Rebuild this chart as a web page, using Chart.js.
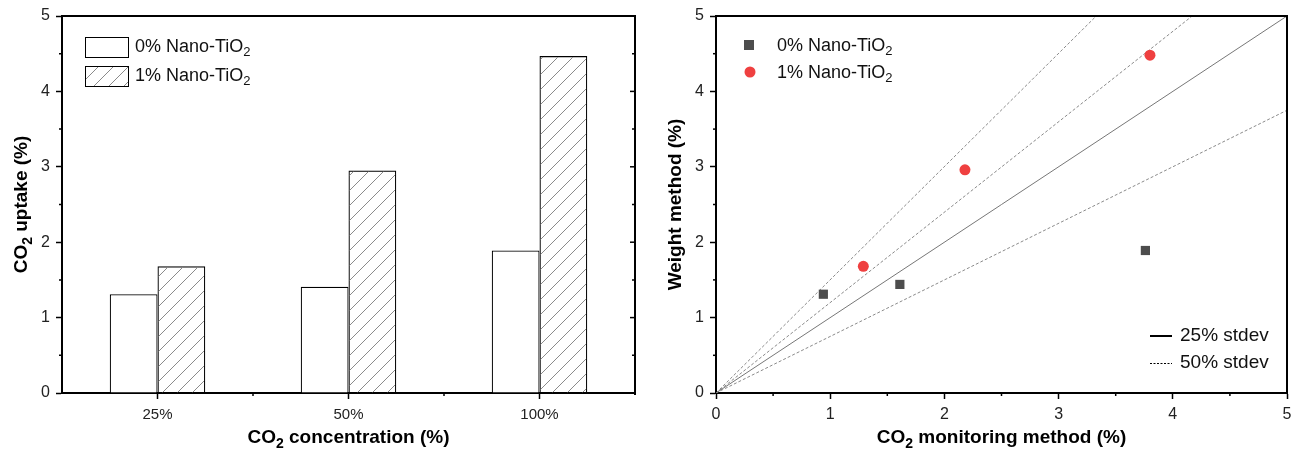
<!DOCTYPE html>
<html>
<head>
<meta charset="utf-8">
<script src="https://cdn.jsdelivr.net/npm/chart.js@4/dist/chart.umd.min.js"></script>
<style>
  html, body { margin: 0; padding: 0; background: #fff; }
  #wrap { width: 1304px; height: 459px; display: flex; }
  .cell { position: relative; width: 652px; height: 459px; }
</style>
</head>
<body>
<div id="wrap">
  <div class="cell"><canvas id="barChart" width="652" height="459"></canvas></div>
  <div class="cell"><canvas id="scatterChart" width="652" height="459"></canvas></div>
</div>
<script>
// ---- data ----
const concentrations = ['25%', '50%', '100%'];
const uptake0 = [1.31, 1.41, 1.89];      // 0% Nano-TiO2, CO2 uptake (%)
const uptake1 = [1.68, 2.95, 4.47];      // 1% Nano-TiO2, CO2 uptake (%)

const monitor0 = [0.94, 1.61, 3.76];     // 0% Nano-TiO2, CO2 monitoring method (%)
const weight0  = [1.31, 1.44, 1.89];     // 0% Nano-TiO2, weight method (%)
const monitor1 = [1.29, 2.18, 3.80];     // 1% Nano-TiO2, CO2 monitoring method (%)
const weight1  = [1.68, 2.96, 4.48];     // 1% Nano-TiO2, weight method (%)

// reference lines: end points (x, y) starting from the origin
const line25X = [0, 5];     const line25Y = [0, 5];
const line50aX = [0, 3.33]; const line50aY = [0, 5];
const line50bX = [0, 4.17]; const line50bY = [0, 5];
const line50cX = [0, 5];    const line50cY = [0, 3.75];

const yTicks = [0, 1, 2, 3, 4, 5];
const xTicks = [0, 1, 2, 3, 4, 5];

const FONT = "'Liberation Sans', Arial, sans-serif";

// diagonal hatch fill
function makeHatch(ctx) {
  const s = 15;
  const c = document.createElement('canvas');
  c.width = s; c.height = s;
  const g = c.getContext('2d');
  g.strokeStyle = '#8a8a8a';
  g.lineWidth = 1;
  g.beginPath();
  g.moveTo(0, s); g.lineTo(s, 0);
  g.moveTo(-s / 2, s / 2); g.lineTo(s / 2, -s / 2);
  g.moveTo(s / 2, s * 1.5); g.lineTo(s * 1.5, s / 2);
  g.stroke();
  return ctx.createPattern(c, 'repeat');
}

// text with subscript pieces: parts = [[text, isSub], ...]
function richWidth(ctx, parts, size, bold) {
  let w = 0;
  for (const [t, sub] of parts) {
    ctx.font = (bold ? 'bold ' : '') + (sub ? Math.round(size * 0.72) : size) + 'px ' + FONT;
    w += ctx.measureText(t).width;
  }
  return w;
}
function drawRich(ctx, parts, x, y, size, bold, align) {
  const w = richWidth(ctx, parts, size, bold);
  let cx = align === 'center' ? x - w / 2 : x;
  ctx.textBaseline = 'middle';
  ctx.textAlign = 'left';
  for (const [t, sub] of parts) {
    ctx.font = (bold ? 'bold ' : '') + (sub ? Math.round(size * 0.72) : size) + 'px ' + FONT;
    ctx.fillText(t, cx, sub ? y + size * 0.32 : y);
    cx += ctx.measureText(t).width;
  }
}

function fixedAxes(yWidth, xHeight) {
  return {
    y: (axis) => { axis.width = yWidth; },
    x: (axis) => { axis.height = xHeight; }
  };
}

const TITLE_SIZE = 19;
const LEGEND_SIZE = 18;
const TICK_SIZE = 16;

// ---- left: bar chart ----
const barCtx = document.getElementById('barChart').getContext('2d');
const hatch = makeHatch(barCtx);

const barDecor = {
  id: 'barDecor',
  afterDraw(chart) {
    const ctx = chart.ctx;
    const a = chart.chartArea;
    const ys = chart.scales.y, xs = chart.scales.x;
    ctx.save();
    ctx.strokeStyle = '#000';
    ctx.lineWidth = 2;
    // frame top + right
    ctx.beginPath();
    ctx.moveTo(a.left, a.top); ctx.lineTo(a.right, a.top); ctx.lineTo(a.right, a.bottom + 2);
    ctx.stroke();
    ctx.lineWidth = 1.5;
    // minor ticks on left axis and mirrored ticks on right border
    for (let v = 0; v <= 5.001; v += 0.5) {
      const py = ys.getPixelForValue(v);
      const major = Math.abs(v - Math.round(v)) < 1e-6;
      ctx.beginPath();
      if (!major) { ctx.moveTo(a.left, py); ctx.lineTo(a.left - 3, py); }
      ctx.moveTo(a.right, py); ctx.lineTo(a.right - (major ? 5 : 3), py);
      ctx.stroke();
    }
    // minor ticks between categories
    for (let i = 0; i < concentrations.length - 1; i++) {
      const px = (xs.getPixelForValue(i) + xs.getPixelForValue(i + 1)) / 2;
      ctx.beginPath(); ctx.moveTo(px, a.bottom); ctx.lineTo(px, a.bottom + 3); ctx.stroke();
    }
    // axis titles
    ctx.fillStyle = '#000';
    drawRich(ctx, [['CO', false], ['2', true], [' concentration (%)', false]], (a.left + a.right) / 2, 438, TITLE_SIZE, true, 'center');
    ctx.save();
    ctx.translate(22, (a.top + a.bottom) / 2);
    ctx.rotate(-Math.PI / 2);
    drawRich(ctx, [['CO', false], ['2', true], [' uptake (%)', false]], 0, 0, TITLE_SIZE, true, 'center');
    ctx.restore();
    // legend
    ctx.lineWidth = 1;
    ctx.fillStyle = '#fff';
    ctx.fillRect(85.5, 37.5, 43, 20); ctx.strokeRect(85.5, 37.5, 43, 20);
    ctx.fillStyle = hatch;
    ctx.fillRect(85.5, 66.5, 43, 20); ctx.strokeRect(85.5, 66.5, 43, 20);
    ctx.fillStyle = '#111';
    drawRich(ctx, [['0% Nano-TiO', false], ['2', true]], 135, 47, LEGEND_SIZE, false, 'left');
    drawRich(ctx, [['1% Nano-TiO', false], ['2', true]], 135, 76, LEGEND_SIZE, false, 'left');
    ctx.restore();
  }
};

const barFit = fixedAxes(62, 66);
new Chart(barCtx, {
  type: 'bar',
  data: {
    labels: concentrations,
    datasets: [
      { label: '0% Nano-TiO2', data: uptake0, backgroundColor: '#fff', borderColor: '#000', borderWidth: 1.2,
        barPercentage: 1, categoryPercentage: 0.5 },
      { label: '1% Nano-TiO2', data: uptake1, backgroundColor: hatch, borderColor: '#000', borderWidth: 1.2,
        barPercentage: 1, categoryPercentage: 0.5 }
    ]
  },
  options: {
    responsive: false,
    animation: false,
    layout: { padding: { top: 16, right: 17, left: 0, bottom: 0 } },
    plugins: { legend: { display: false }, tooltip: { enabled: false } },
    scales: {
      x: {
        afterFit: barFit.x,
        grid: { display: true, drawOnChartArea: false, offset: false, tickLength: 6, tickColor: '#000', tickWidth: 1.5 },
        border: { color: '#000', width: 2 },
        ticks: { color: '#222', font: { family: FONT, size: 15 }, padding: 7 }
      },
      y: {
        min: 0, max: 5,
        afterFit: barFit.y,
        afterBuildTicks: (axis) => { axis.ticks = yTicks.map(v => ({ value: v })); },
        grid: { display: true, drawOnChartArea: false, tickLength: 6, tickColor: '#000', tickWidth: 1.5 },
        border: { color: '#000', width: 2 },
        ticks: { color: '#222', font: { family: FONT, size: TICK_SIZE }, padding: 6 }
      }
    }
  },
  plugins: [barDecor]
});

// ---- right: scatter chart ----
const scCtx = document.getElementById('scatterChart').getContext('2d');

function pts(xs, ys) { return xs.map((x, i) => ({ x: x, y: ys[i] })); }

const scatterDecor = {
  id: 'scatterDecor',
  afterDraw(chart) {
    const ctx = chart.ctx;
    const a = chart.chartArea;
    const ys = chart.scales.y, xs = chart.scales.x;
    ctx.save();
    ctx.strokeStyle = '#000';
    ctx.lineWidth = 2;
    ctx.beginPath();
    ctx.moveTo(a.left, a.top); ctx.lineTo(a.right, a.top); ctx.lineTo(a.right, a.bottom);
    ctx.stroke();
    ctx.lineWidth = 1.5;
    for (let v = 0.5; v < 5; v += 1) {
      const py = ys.getPixelForValue(v);
      ctx.beginPath(); ctx.moveTo(a.left, py); ctx.lineTo(a.left - 3, py); ctx.stroke();
      const px = xs.getPixelForValue(v);
      ctx.beginPath(); ctx.moveTo(px, a.bottom); ctx.lineTo(px, a.bottom + 3); ctx.stroke();
    }
    // axis titles
    ctx.fillStyle = '#000';
    drawRich(ctx, [['CO', false], ['2', true], [' monitoring method (%)', false]], (a.left + a.right) / 2, 438, TITLE_SIZE, true, 'center');
    ctx.save();
    ctx.translate(24, (a.top + a.bottom) / 2);
    ctx.rotate(-Math.PI / 2);
    drawRich(ctx, [['Weight method (%)', false]], 0, 0, TITLE_SIZE, true, 'center');
    ctx.restore();
    // marker legend
    ctx.fillStyle = '#4d4d4d';
    ctx.fillRect(97 - 5, 45 - 5, 10, 10);
    ctx.fillStyle = '#ef4040';
    ctx.beginPath(); ctx.arc(98, 72, 5.5, 0, Math.PI * 2); ctx.fill();
    ctx.fillStyle = '#111';
    drawRich(ctx, [['0% Nano-TiO', false], ['2', true]], 125, 46, LEGEND_SIZE, false, 'left');
    drawRich(ctx, [['1% Nano-TiO', false], ['2', true]], 125, 73, LEGEND_SIZE, false, 'left');
    // line legend
    ctx.strokeStyle = '#000';
    ctx.lineWidth = 2;
    ctx.beginPath(); ctx.moveTo(498, 336); ctx.lineTo(520, 336); ctx.stroke();
    ctx.lineWidth = 1;
    ctx.setLineDash([2, 1.5]);
    ctx.beginPath(); ctx.moveTo(498, 363.5); ctx.lineTo(520, 363.5); ctx.stroke();
    ctx.setLineDash([]);
    drawRich(ctx, [['25% stdev', false]], 528, 336, 19, false, 'left');
    drawRich(ctx, [['50% stdev', false]], 528, 363, 19, false, 'left');
    ctx.restore();
  }
};

const scFit = fixedAxes(64, 66);
const dashedLine = (xs, ys) => ({
  type: 'line', data: pts(xs, ys), borderColor: '#8a8a8a', borderWidth: 1, borderDash: [3, 2],
  pointRadius: 0, fill: false, order: 2
});

new Chart(scCtx, {
  type: 'scatter',
  data: {
    datasets: [
      { type: 'line', data: pts(line25X, line25Y), borderColor: '#777', borderWidth: 1, pointRadius: 0, fill: false, order: 2 },
      dashedLine(line50aX, line50aY),
      dashedLine(line50bX, line50bY),
      dashedLine(line50cX, line50cY),
      { label: '0% Nano-TiO2', data: pts(monitor0, weight0), pointStyle: 'rect', pointRadius: 6.5,
        backgroundColor: '#4d4d4d', borderColor: '#4d4d4d', borderWidth: 0, order: 1 },
      { label: '1% Nano-TiO2', data: pts(monitor1, weight1), pointStyle: 'circle', pointRadius: 5.5,
        backgroundColor: '#ef4040', borderColor: '#ef4040', borderWidth: 0, order: 1 }
    ]
  },
  options: {
    responsive: false,
    animation: false,
    layout: { padding: { top: 16, right: 17, left: 0, bottom: 0 } },
    plugins: { legend: { display: false }, tooltip: { enabled: false } },
    scales: {
      x: {
        type: 'linear', min: 0, max: 5,
        afterFit: scFit.x,
        afterBuildTicks: (axis) => { axis.ticks = xTicks.map(v => ({ value: v })); },
        grid: { display: true, drawOnChartArea: false, tickLength: 6, tickColor: '#000', tickWidth: 1.5 },
        border: { color: '#000', width: 2 },
        ticks: { color: '#222', font: { family: FONT, size: TICK_SIZE }, padding: 6 }
      },
      y: {
        min: 0, max: 5,
        afterFit: scFit.y,
        afterBuildTicks: (axis) => { axis.ticks = yTicks.map(v => ({ value: v })); },
        grid: { display: true, drawOnChartArea: false, tickLength: 6, tickColor: '#000', tickWidth: 1.5 },
        border: { color: '#000', width: 2 },
        ticks: { color: '#222', font: { family: FONT, size: TICK_SIZE }, padding: 6 }
      }
    }
  },
  plugins: [scatterDecor]
});
</script>
</body>
</html>
